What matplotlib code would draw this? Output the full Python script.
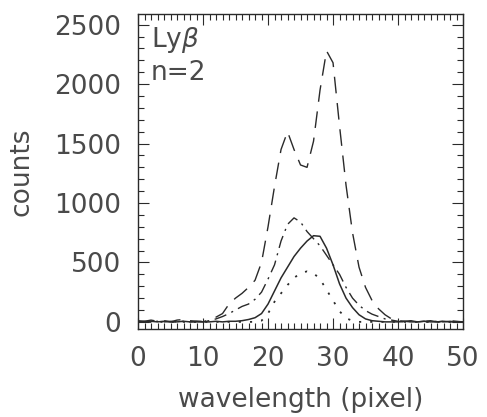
import matplotlib.pyplot as plt
from matplotlib.ticker import MultipleLocator

wavelength = list(range(0, 51))

# counts per pixel
total = [10, 5, 15, 5, 10, 0, 15, 20, 10, 5,
         0, 20, 40, 70, 150, 200, 240, 290, 350, 500,
         800, 1140, 1450, 1600, 1450, 1320, 1300, 1520, 1950, 2280,
         2180, 1650, 1150, 750, 460, 290, 180, 110, 60, 25,
         10, 5, 10, 0, 5, 10, 0, 5, 10, 5, 0]
dashdot = [0, 5, 0, 5, 0, 5, 0, 5, 0, 5,
           5, 10, 25, 45, 70, 100, 130, 150, 190, 250,
           360, 480, 680, 820, 875, 840, 760, 700, 640, 560,
           480, 400, 290, 200, 140, 95, 65, 45, 25, 15,
           5, 0, 5, 0, 5, 0, 5, 0, 5, 0, 0]
solid = [0, 0, 5, 0, 5, 0, 0, 5, 0, 0,
         0, 0, 5, 0, 5, 5, 10, 20, 35, 70,
         150, 260, 370, 460, 550, 620, 680, 725, 720, 620,
         480, 320, 200, 120, 60, 25, 10, 5, 0, 0,
         0, 5, 0, 0, 5, 0, 0, 5, 0, 0, 0]
dotted = [0, 0, 0, 0, 0, 0, 0, 0, 0, 0,
          0, 0, 0, 0, 0, 0, 0, 0, 0, 10,
          70, 170, 240, 310, 370, 410, 425, 410, 360, 270,
          180, 90, 30, 10, 0, 0, 0, 0, 0, 0,
          0, 0, 0, 0, 0, 0, 0, 0, 0, 0, 0]

grey = '#4a4a4a'
ink = '#2a2a2a'
plt.rcParams['font.family'] = 'DejaVu Sans'

fig = plt.figure(figsize=(4.87, 4.17), dpi=100)
ax = fig.add_axes([0.2834, 0.211, 0.6674, 0.7554])

ax.plot(wavelength, total, color=ink, lw=1.0, ls=(0, (12, 7)))
ax.plot(wavelength, dashdot, color=ink, lw=1.0, ls=(0, (9, 4, 1.5, 4)))
ax.plot(wavelength, solid, color=ink, lw=1.1, ls='-')
ax.plot(wavelength, dotted, color=ink, lw=1.3, ls=(0, (1.2, 5)))

ax.set_xlim(0, 50)
ax.set_ylim(-60, 2590)
ax.xaxis.set_major_locator(MultipleLocator(10))
ax.xaxis.set_minor_locator(MultipleLocator(1))
ax.yaxis.set_major_locator(MultipleLocator(500))
ax.yaxis.set_minor_locator(MultipleLocator(100))
ax.tick_params(which='both', direction='in', top=True, right=True,
               labelsize=19, labelcolor=grey, color=ink, width=0.8)
ax.tick_params(which='major', length=8, pad=12)
ax.tick_params(which='minor', length=4)
for s in ax.spines.values():
    s.set_color(ink)
    s.set_linewidth(1.0)

ax.set_xlabel('wavelength (pixel)', fontsize=19, color=grey, labelpad=11)
ax.set_ylabel('counts', fontsize=19, color=grey, labelpad=14)

ax.text(0.04, 0.965, r'Ly$\beta$', transform=ax.transAxes, fontsize=19,
        color=grey, va='top', ha='left')
ax.text(0.04, 0.79, 'n=2', transform=ax.transAxes, fontsize=19,
        color=grey, va='baseline', ha='left')

fig.savefig('out.png', dpi=100)
